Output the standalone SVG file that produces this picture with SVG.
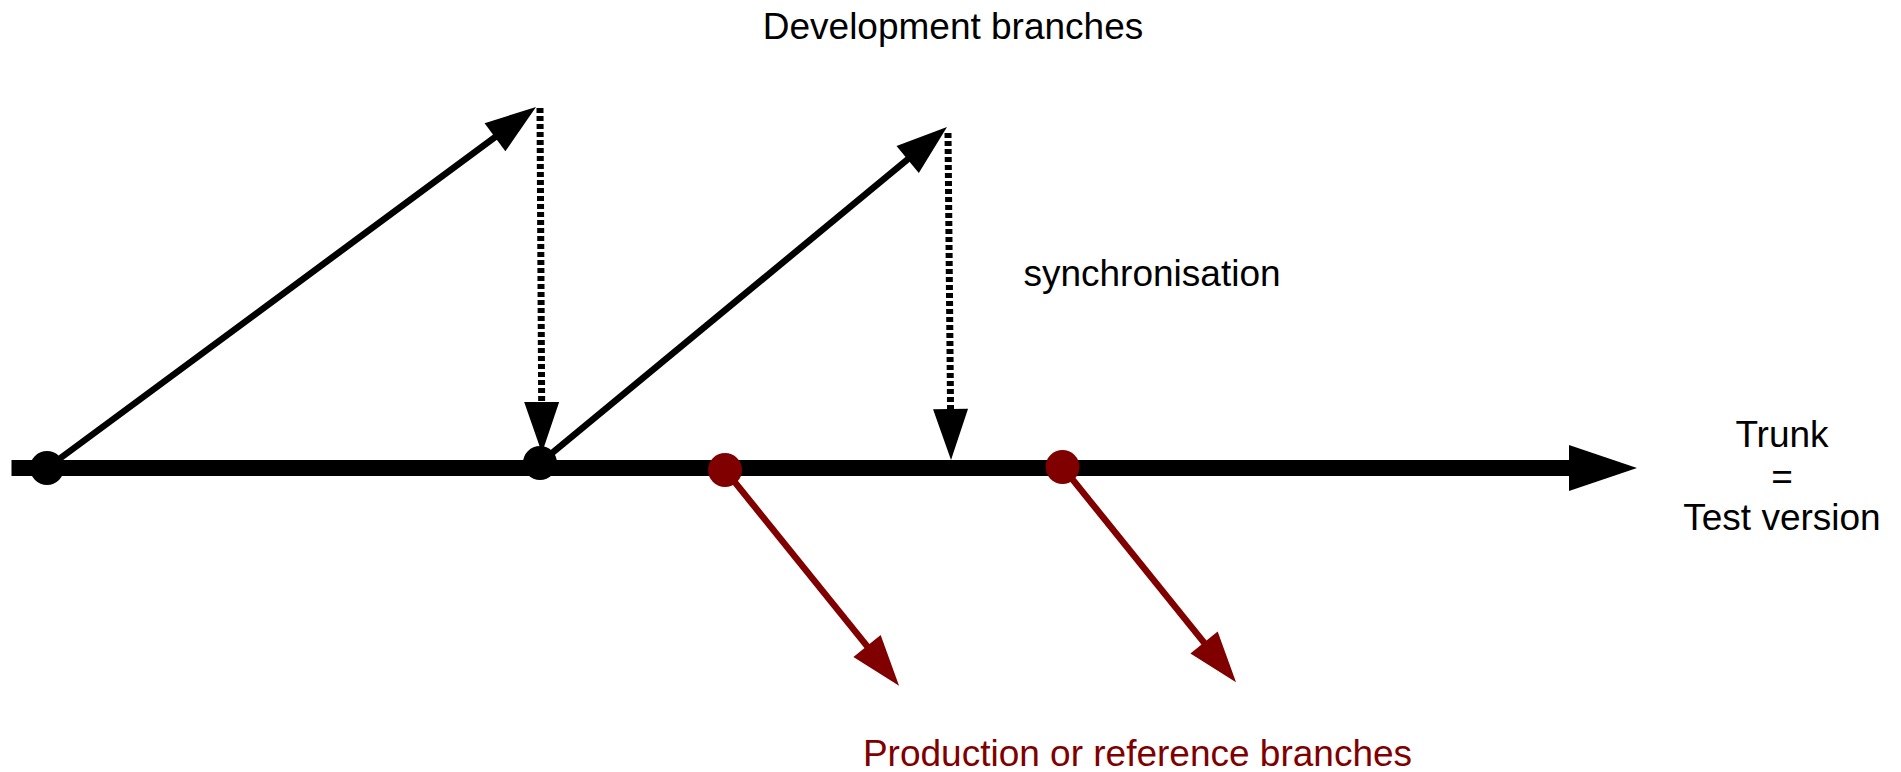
<svg xmlns="http://www.w3.org/2000/svg" width="1901" height="772" viewBox="0 0 1901 772">
<style>
.lbl{font-family:"Liberation Sans",Arial,sans-serif;font-size:37px;text-anchor:middle;fill:#000}
.red{fill:#800000}
.dev{stroke:#000;stroke-width:6.5;fill:none}
.sync{stroke:#000;stroke-width:7;stroke-dasharray:5 3;fill:none}
.prod{stroke:#800000;stroke-width:6.5;fill:none}
</style>
<defs>
<marker id="ahB" markerUnits="userSpaceOnUse" markerWidth="51" markerHeight="35" refX="6" refY="17.5" orient="auto" overflow="visible"><path d="M0,0 L51,17.5 L0,35 Z" fill="#000"/></marker>
<marker id="ahR" markerUnits="userSpaceOnUse" markerWidth="51" markerHeight="35" refX="6" refY="17.5" orient="auto" overflow="visible"><path d="M0,0 L51,17.5 L0,35 Z" fill="#800000"/></marker>
<marker id="ahT" markerUnits="userSpaceOnUse" markerWidth="68" markerHeight="46" refX="3" refY="23" orient="auto" overflow="visible"><path d="M0,0 L68,23 L0,46 Z" fill="#000"/></marker>
</defs>
<g id="connectors">
<line id="trunk" x1="11.5" y1="468" x2="1572" y2="468" stroke="#000" stroke-width="16" marker-end="url(#ahT)"/>
<line id="dev1" class="dev" x1="47" y1="468" x2="499.8" y2="133.7" marker-end="url(#ahB)"/>
<line id="dev2" class="dev" x1="540" y1="463" x2="912.3" y2="155.6" marker-end="url(#ahB)"/>
<line id="sync1" class="sync" x1="540" y1="108" x2="541.7" y2="408" marker-end="url(#ahB)"/>
<line id="sync2" class="sync" x1="948" y1="133" x2="950.6" y2="415" marker-end="url(#ahB)"/>
<line id="prod1" class="prod" x1="725" y1="470" x2="870.8" y2="650.7" marker-end="url(#ahR)"/>
<line id="prod2" class="prod" x1="1062.5" y1="467" x2="1207.8" y2="647.2" marker-end="url(#ahR)"/>
</g>
<g id="node-dot1"><circle cx="47" cy="468" r="17" fill="#000"/></g>
<g id="node-dot2"><circle cx="540" cy="463" r="17" fill="#000"/></g>
<g id="node-red1"><circle cx="725" cy="470" r="17" fill="#800000"/></g>
<g id="node-red2"><circle cx="1062.5" cy="467" r="17" fill="#800000"/></g>
<g id="label-dev"><text class="lbl" x="953" y="39">Development branches</text></g>
<g id="label-sync"><text class="lbl" x="1152" y="286">synchronisation</text></g>
<g id="label-trunk"><text class="lbl" x="1782" y="447">Trunk</text><text class="lbl" x="1782" y="488.5">=</text><text class="lbl" x="1782" y="530">Test version</text></g>
<g id="label-prod"><text class="lbl red" x="1137.5" y="766">Production or reference branches</text></g>
</svg>
